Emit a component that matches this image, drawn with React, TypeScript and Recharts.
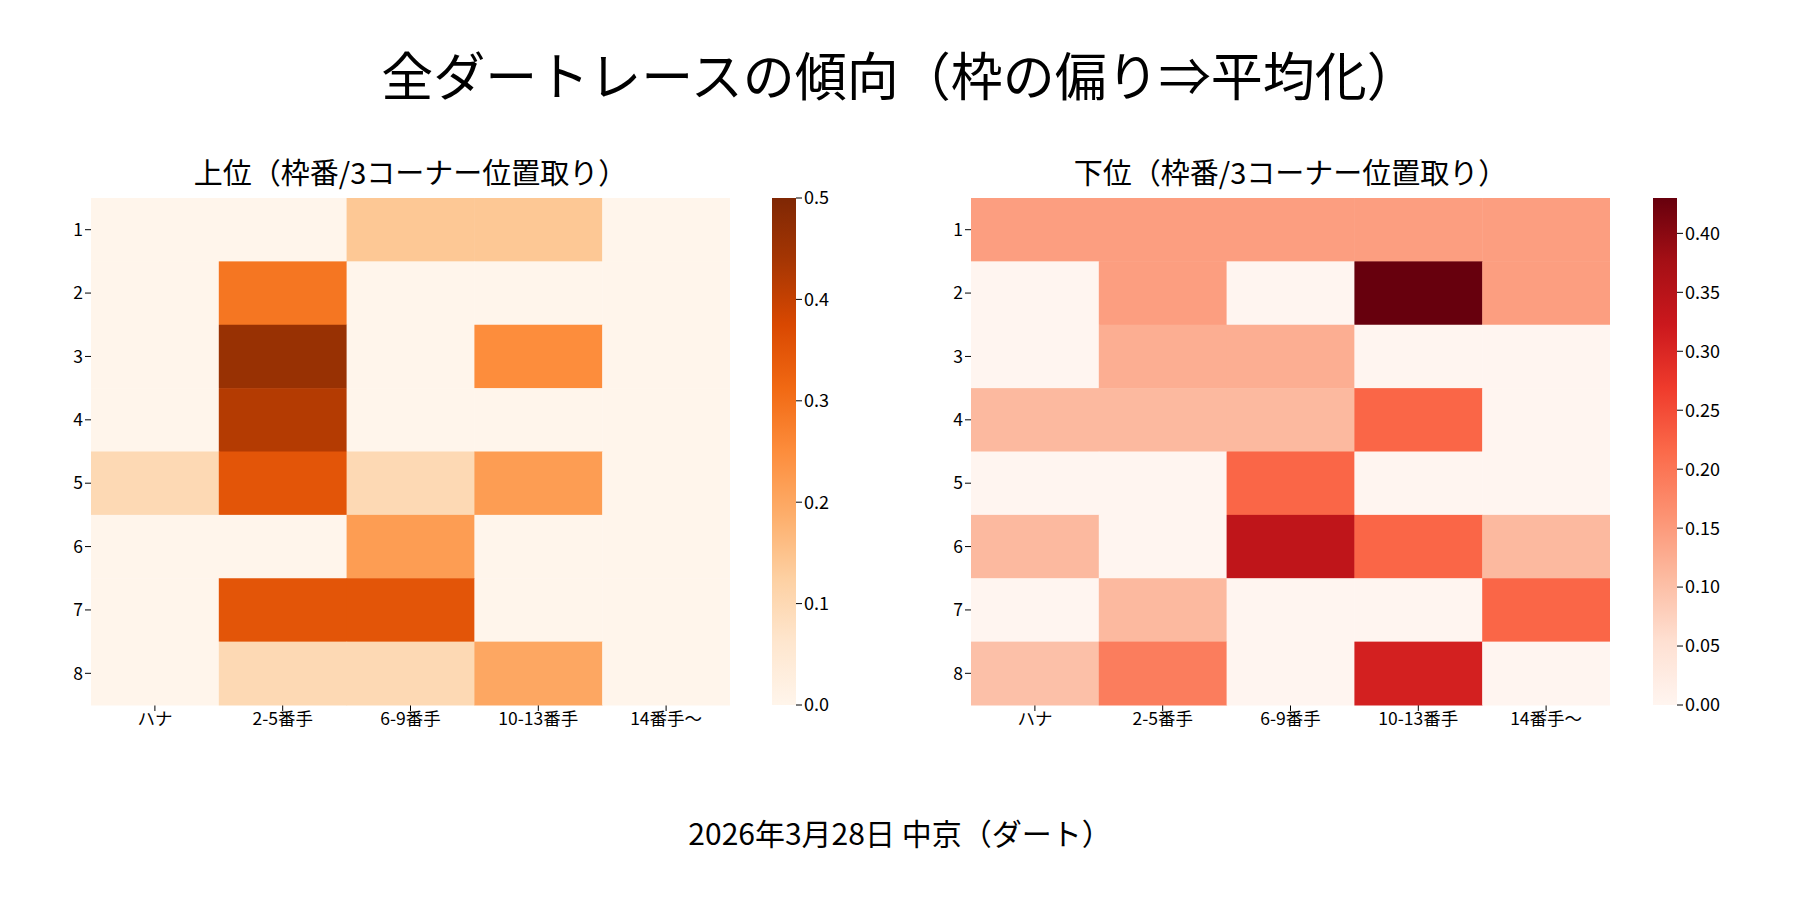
import { ScatterChart, Scatter, XAxis, YAxis, BarChart, Bar } from 'recharts'

const cols = ['ハナ', '2-5番手', '6-9番手', '10-13番手', '14番手〜']
const rowLabels = ['1', '2', '3', '4', '5', '6', '7', '8']

const upperValues = [
  [0, 0, 0.14, 0.14, 0],
  [0, 0.29, 0, 0, 0],
  [0, 0.46, 0, 0.25, 0],
  [0, 0.42, 0, 0, 0],
  [0.1, 0.35, 0.1, 0.22, 0],
  [0, 0, 0.22, 0, 0],
  [0, 0.35, 0.35, 0, 0],
  [0, 0.1, 0.1, 0.2, 0],
]
const lowerValues = [
  [0.145, 0.145, 0.145, 0.145, 0.145],
  [0, 0.145, 0, 0.43, 0.145],
  [0, 0.125, 0.125, 0, 0],
  [0.11, 0.11, 0.11, 0.22, 0],
  [0, 0, 0.22, 0, 0],
  [0.11, 0, 0.34, 0.22, 0.11],
  [0, 0.11, 0, 0, 0.22],
  [0.1, 0.19, 0, 0.31, 0],
]

const oranges = ['#fff5eb', '#fee6ce', '#fdd0a2', '#fdae6b', '#fd8d3c', '#f16913', '#d94801', '#a63603', '#7f2704']
const reds = ['#fff5f0', '#fee0d2', '#fcbba1', '#fc9272', '#fb6a4a', '#ef3b2c', '#cb181d', '#a50f15', '#67000d']

const FONT = '"Noto Sans CJK JP", "Noto Sans", sans-serif'

function hex(c: string) {
  return [1, 3, 5].map((i) => parseInt(c.slice(i, i + 2), 16))
}
function colorAt(map: string[], t: number) {
  const x = Math.max(0, Math.min(1, t)) * (map.length - 1)
  const i = Math.min(Math.floor(x), map.length - 2)
  const f = x - i
  const a = hex(map[i]), b = hex(map[i + 1])
  return `rgb(${a.map((v, k) => Math.round(v + (b[k] - v) * f)).join(',')})`
}

const PW = 639, PH = 507, PY = 198

function Heatmap({ values, map, max, left, title }: { values: number[][]; map: string[]; max: number; left: number; title: string }) {
  const points = values.flatMap((row, r) => row.map((v, c) => ({ x: c + 0.5, y: r + 0.5, v })))
  const cw = PW / 5, ch = PH / 8
  return (
    <>
      <div style={{ position: 'absolute', left: left - 100, top: 150, width: PW + 200, textAlign: 'center', fontSize: 29, fontFamily: FONT }}>{title}</div>
      <div style={{ position: 'absolute', left: left - 60, top: PY }}>
        <ScatterChart width={PW + 60} height={PH + 40} margin={{ top: 0, right: 0, left: 0, bottom: 0 }}>
          <XAxis type="number" dataKey="x" domain={[0, 5]} ticks={[0.5, 1.5, 2.5, 3.5, 4.5]} tickFormatter={(v) => cols[Math.floor(v)]}
            axisLine={false} height={40} tick={{ fill: '#000', fontSize: 17.5, fontFamily: FONT }} tickLine={{ stroke: '#000' }} interval={0} />
          <YAxis type="number" dataKey="y" domain={[0, 8]} reversed ticks={[0.5, 1.5, 2.5, 3.5, 4.5, 5.5, 6.5, 7.5]}
            tickFormatter={(v) => rowLabels[Math.floor(v)]} axisLine={false} width={60} interval={0}
            tick={{ fill: '#000', fontSize: 17.5, fontFamily: FONT }} tickLine={{ stroke: '#000' }} />
          <Scatter data={points} isAnimationActive={false}
            shape={(p: any) => <rect x={p.cx - cw / 2} y={p.cy - ch / 2} width={cw + 0.5} height={ch + 0.5} fill={colorAt(map, p.payload.v / max)} />} />
        </ScatterChart>
      </div>
    </>
  )
}

function ColorBar({ map, max, ticks, left, id, digits }: { map: string[]; max: number; ticks: number[]; left: number; id: string; digits: number }) {
  return (
    <div style={{ position: 'absolute', left, top: PY - 12 }}>
      <BarChart width={24 + 70} height={PH + 24} data={[{ v: max }]} margin={{ top: 12, right: 0, left: 0, bottom: 12 }} barCategoryGap={0}>
        <defs>
          <linearGradient id={id} x1="0" y1="1" x2="0" y2="0">
            {map.map((c, i) => <stop key={i} offset={i / (map.length - 1)} stopColor={c} />)}
          </linearGradient>
        </defs>
        <XAxis hide dataKey="v" />
        <YAxis orientation="right" domain={[0, max]} ticks={ticks} width={70} axisLine={false} interval={0}
          tickFormatter={(v) => v.toFixed(digits)} tick={{ fill: '#000', fontSize: 18, fontFamily: FONT }} tickLine={{ stroke: '#000' }} />
        <Bar dataKey="v" fill={`url(#${id})`} isAnimationActive={false} />
      </BarChart>
    </div>
  )
}

export default function App() {
  return (
    <div style={{ position: 'fixed', left: 0, top: 0, width: 1800, height: 900, background: '#fff', fontFamily: FONT }}>
      <div style={{ position: 'absolute', left: 0, top: 36, width: 1800, textAlign: 'center', fontSize: 52 }}>全ダートレースの傾向（枠の偏り⇒平均化）</div>
      <Heatmap values={upperValues} map={oranges} max={0.5} left={91} title="上位（枠番/3コーナー位置取り）" />
      <ColorBar map={oranges} max={0.5} ticks={[0, 0.1, 0.2, 0.3, 0.4, 0.5]} left={772} id="gOr" digits={1} />
      <Heatmap values={lowerValues} map={reds} max={0.43} left={971} title="下位（枠番/3コーナー位置取り）" />
      <ColorBar map={reds} max={0.43} ticks={[0, 0.05, 0.1, 0.15, 0.2, 0.25, 0.3, 0.35, 0.4]} left={1653} id="gRd" digits={2} />
      <div style={{ position: 'absolute', left: 0, top: 810, width: 1800, textAlign: 'center', fontSize: 30 }}>2026年3月28日 中京（ダート）</div>
    </div>
  )
}
